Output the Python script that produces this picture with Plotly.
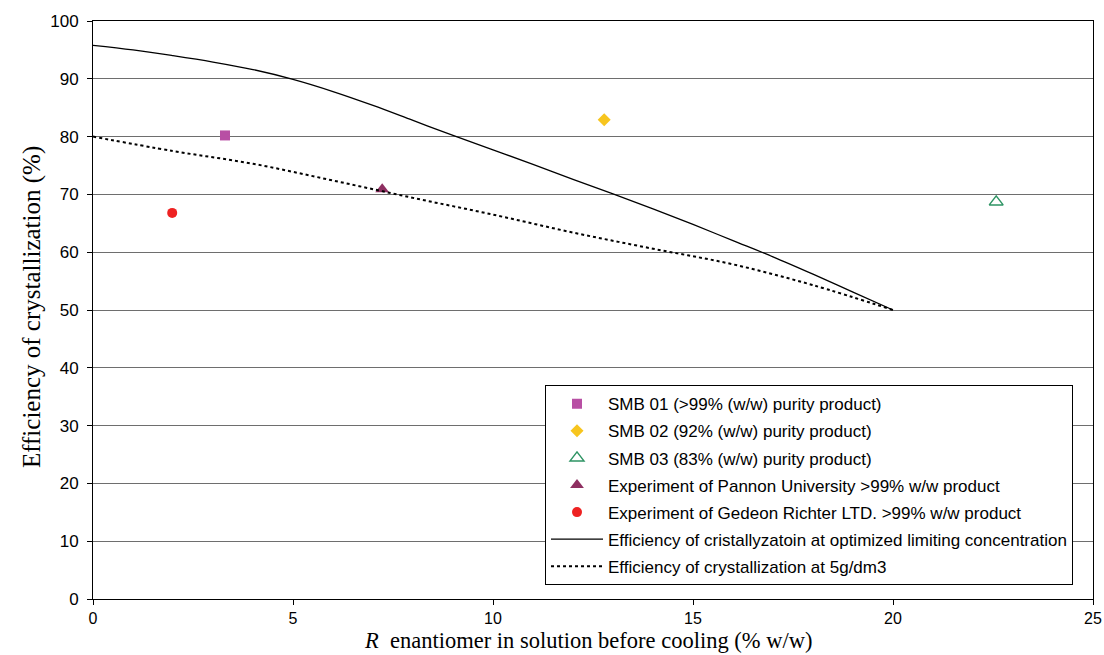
import plotly.graph_objects as go

# Data
smb01_x, smb01_y = [3.3], [80.2]
smb02_x, smb02_y = [12.78], [82.9]
smb03_x, smb03_y = [22.58], [68.7]
pannon_x, pannon_y = [7.23], [70.9]
gedeon_x, gedeon_y = [1.98], [66.8]

opt_x = [0, 1, 2, 3, 4, 5, 6, 7, 8, 9, 10, 11, 12, 13, 14, 15, 16, 17, 18, 19, 20]
opt_y = [95.8, 95.0, 94.0, 92.9, 91.6, 89.9, 87.8, 85.4, 82.8, 80.2, 77.7, 75.2,
         72.6, 70.1, 67.5, 64.8, 62.0, 59.2, 56.2, 53.1, 50.0]

c5_x = [0, 2, 4, 6, 8, 10, 12, 14, 16, 18, 20]
c5_y = [80.0, 77.5, 75.3, 72.4, 69.4, 66.5, 63.4, 60.6, 57.9, 54.3, 50.0]

x_ticks = [0, 5, 10, 15, 20, 25]
y_ticks = [0, 10, 20, 30, 40, 50, 60, 70, 80, 90, 100]

fig = go.Figure()
fig.add_trace(go.Scatter(x=smb01_x, y=smb01_y, mode="markers", legendgroup="a",
                         name="SMB 01 (>99% (w/w) purity product)",
                         marker=dict(symbol="square", size=10, color="#B84FA4")))
fig.add_trace(go.Scatter(x=smb02_x, y=smb02_y, mode="markers", legendgroup="b",
                         name="SMB 02 (92% (w/w) purity product)",
                         marker=dict(symbol="diamond", size=10, color="#F7C51E")))
fig.add_trace(go.Scatter(x=smb03_x, y=smb03_y, mode="markers", legendgroup="c",
                         name="SMB 03 (83% (w/w) purity product)",
                         marker=dict(symbol="triangle-up-open", size=12, color="#2E9464",
                                     line=dict(width=1.5))))
fig.add_trace(go.Scatter(x=pannon_x, y=pannon_y, mode="markers", legendgroup="d",
                         name="Experiment of Pannon University >99% w/w product",
                         marker=dict(symbol="triangle-up", size=12, color="#8E2F61")))
fig.add_trace(go.Scatter(x=gedeon_x, y=gedeon_y, mode="markers", legendgroup="e",
                         name="Experiment of Gedeon Richter LTD. >99% w/w product",
                         marker=dict(symbol="circle", size=10, color="#EE2222")))
fig.add_trace(go.Scatter(x=opt_x, y=opt_y, mode="lines", legendgroup="f",
                         name="Efficiency of cristallyzatoin at optimized limiting concentration",
                         line=dict(color="black", width=1.3, shape="spline")))
fig.add_trace(go.Scatter(x=c5_x, y=c5_y, mode="lines", legendgroup="g",
                         name="Efficiency of crystallization at 5g/dm3",
                         line=dict(color="black", width=2, dash="dot", shape="spline")))

fig.update_layout(
    width=1104, height=655,
    margin=dict(l=93, r=11, t=21, b=56),
    paper_bgcolor="white", plot_bgcolor="white",
    font=dict(family="Liberation Sans, Arial", size=17, color="black"),
    legend=dict(x=0.452, y=0.37, xanchor="left", yanchor="top",
                bgcolor="white", bordercolor="black", borderwidth=1,
                font=dict(size=17, family="Liberation Sans, Arial"),
                tracegroupgap=2, itemwidth=52),
    showlegend=True,
    annotations=[
        dict(text="Efficiency of crystallization (%)", textangle=-90,
             xref="paper", yref="paper", x=0, y=0.505, xanchor="center", yanchor="middle",
             xshift=-61, showarrow=False,
             font=dict(family="Liberation Serif, Times New Roman", size=25, color="black")),
        dict(text="<i>R</i>  enantiomer in solution before cooling (% w/w)",
             xref="paper", yref="paper", x=0.4945, y=0, xanchor="center", yanchor="bottom",
             yshift=-56, showarrow=False,
             font=dict(family="Liberation Serif, Times New Roman", size=22.5, color="black")),
    ],
)
fig.update_xaxes(range=[0, 25], tickvals=x_ticks, automargin=False,
                 showgrid=False, zeroline=False,
                 showline=True, linecolor="black", linewidth=1, mirror=True,
                 ticks="outside", ticklen=5, tickcolor="black", ticklabelstandoff=0,
                 tickfont=dict(size=16))
fig.update_yaxes(range=[0, 100], tickvals=y_ticks, automargin=False,
                 showgrid=True, gridcolor="#6e6e6e", gridwidth=1, zeroline=False,
                 showline=True, linecolor="black", linewidth=1, mirror=True,
                 ticks="outside", ticklen=5, tickcolor="black", ticklabelstandoff=5)

fig.write_html("out.html")
